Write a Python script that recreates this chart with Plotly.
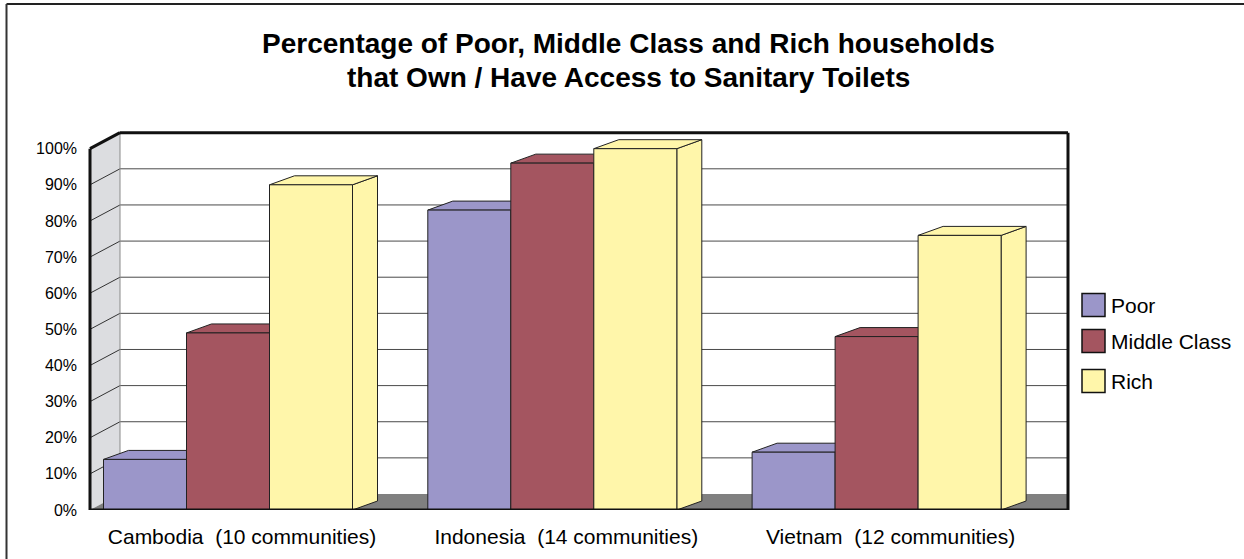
import plotly.graph_objects as go

# ---- data -------------------------------------------------------------
countries = [
    "Cambodia\u00a0 (10 communities)",
    "Indonesia\u00a0 (14 communities)",
    "Vietnam\u00a0 (12 communities)",
]
series_names = ["Poor", "Middle Class", "Rich"]
poor = [14, 83, 16]
middle = [49, 96, 48]
rich = [90, 100, 76]
y_ticks = [0, 10, 20, 30, 40, 50, 60, 70, 80, 90, 100]
y_tick_text = [f"{v}%" for v in y_ticks]
title_lines = [
    "Percentage of Poor, Middle Class and Rich households",
    "that Own / Have Access to Sanitary Toilets",
]

series_values = [poor, middle, rich]
series_colors = ["#9B96C9", "#A45560", "#FFF6AA"]

# ---- geometry ---------------------------------------------------------
W, H = 1244, 559
ML, MR, MT, MB = 86, 172, 127, 49
PX_PER_X = 324.3          # pixels per category step
FIRST_CENTER_PX = 228     # pixel column of the first category
Y_MAX = 106
plot_w = W - ML - MR
plot_h = H - MT - MB
PX_PER_Y = plot_h / Y_MAX

x_range = [(ML - FIRST_CENTER_PX) / PX_PER_X, (W - MR - FIRST_CENTER_PX) / PX_PER_X]
x_front_left = (90 - FIRST_CENTER_PX) / PX_PER_X
x_back_right = (1068 - FIRST_CENTER_PX) / PX_PER_X

# wall depth and bar depth, converted from pixels to axis units
dxw, dyw = 30 / PX_PER_X, 16 / PX_PER_Y
dxb, dyb = 25 / PX_PER_X, 9 / PX_PER_Y

bar_w = 83 / PX_PER_X
FONT = "Liberation Sans, Arial, Helvetica, sans-serif"


def paper_x(px):
    return (px - ML) / plot_w


def paper_y(py):
    return (H - MB - py) / plot_h


shapes = []


def poly(points, fill, line_color=None, width=0, layer="below"):
    path = "M " + " L ".join(f"{x},{y}" for x, y in points) + " Z"
    shapes.append(dict(type="path", path=path, xref="x", yref="y",
                       fillcolor=fill, layer=layer,
                       line=dict(color=line_color or fill, width=width)))


def seg(x0, y0, x1, y1, color, width, layer="below"):
    shapes.append(dict(type="line", x0=x0, y0=y0, x1=x1, y1=y1,
                       xref="x", yref="y", layer=layer,
                       line=dict(color=color, width=width)))


xb_left = x_front_left + dxw

# back wall
poly([(xb_left, dyw), (xb_left, 100 + dyw), (x_back_right, 100 + dyw),
      (x_back_right, dyw)], "white")
for v in y_ticks[1:-1]:
    seg(xb_left, v + dyw, x_back_right, v + dyw, "#4a4a4a", 1)

# left side wall
poly([(x_front_left, 0), (xb_left, dyw), (xb_left, 100 + dyw),
      (x_front_left, 100)], "#DCDDE0")
for v in y_ticks[1:-1]:
    seg(x_front_left, v, xb_left, v + dyw, "#333333", 1)
seg(xb_left, dyw, xb_left, 100 + dyw, "#8a8a8a", 1)

# floor
poly([(x_front_left, 0), (xb_left, dyw), (x_back_right, dyw),
      (x_back_right, 0)], "#808080")

# bar tops and sides
for i, vals in enumerate(series_values):
    offset = -1.5 * bar_w + i * bar_w
    for j, v in enumerate(vals):
        xl = j + offset
        xr = xl + bar_w
        poly([(xr, 0), (xr + dxb, dyb), (xr + dxb, v + dyb), (xr, v)],
             series_colors[i], "#222222", 1)
        poly([(xl, v), (xl + dxb, v + dyb), (xr + dxb, v + dyb), (xr, v)],
             series_colors[i], "#222222", 1)

# heavy frame edges
for (x0, y0, x1, y1) in [
    (x_front_left, 0, x_front_left, 100),
    (x_front_left, 100, xb_left, 100 + dyw),
    (xb_left, 100 + dyw, x_back_right, 100 + dyw),
    (x_back_right, 100 + dyw, x_back_right, 0),
    (x_front_left, 0, x_back_right, 0),
]:
    seg(x0, y0, x1, y1, "#111111", 3, layer="above")

# outer border (top and left)
shapes.append(dict(type="line", xref="paper", yref="paper",
                   x0=paper_x(6.5), y0=paper_y(4), x1=paper_x(W), y1=paper_y(4),
                   line=dict(color="#222222", width=2)))
shapes.append(dict(type="line", xref="paper", yref="paper",
                   x0=paper_x(6.5), y0=paper_y(4), x1=paper_x(6.5), y1=paper_y(H),
                   line=dict(color="#333333", width=2)))

annotations = []

# title, one annotation per line
for text, cy in zip(title_lines, [44, 78]):
    annotations.append(dict(xref="paper", yref="paper", x=paper_x(628.5),
                            y=paper_y(cy), text=f"<b>{text}</b>",
                            showarrow=False, xanchor="center", yanchor="middle",
                            font=dict(family=FONT, size=28, color="black")))

# legend
legend_rows = [305, 341, 381]
for name, color, cy in zip(series_names, series_colors, legend_rows):
    shapes.append(dict(type="rect", xref="paper", yref="paper",
                       x0=paper_x(1082), x1=paper_x(1105),
                       y0=paper_y(cy - 11.5), y1=paper_y(cy + 11.5),
                       fillcolor=color, line=dict(color="#111111", width=1.5)))
    annotations.append(dict(xref="paper", yref="paper", x=paper_x(1109),
                            y=paper_y(cy), text=name, showarrow=False,
                            xanchor="left", yanchor="middle",
                            font=dict(family=FONT, size=21, color="black")))

# ---- figure -----------------------------------------------------------
fig = go.Figure()
for i, vals in enumerate(series_values):
    fig.add_trace(go.Bar(
        x=[0, 1, 2], y=vals, name=series_names[i],
        width=bar_w, offset=-1.5 * bar_w + i * bar_w,
        marker=dict(color=series_colors[i], line=dict(color="#222222", width=1)),
        showlegend=False,
    ))

fig.update_layout(
    width=W, height=H,
    margin=dict(l=ML, r=MR, t=MT, b=MB, pad=0),
    paper_bgcolor="white", plot_bgcolor="white",
    barmode="overlay",
    xaxis=dict(range=x_range, showgrid=False, zeroline=False, showline=False,
               tickmode="array", tickvals=[0, 1, 2], ticktext=countries,
               ticks="", ticklabelshift=14, ticklabelstandoff=12,
               tickfont=dict(family=FONT, size=21, color="black"),
               fixedrange=True),
    yaxis=dict(range=[0, Y_MAX], showgrid=False, zeroline=False, showline=False,
               tickmode="array", tickvals=y_ticks, ticktext=y_tick_text,
               ticks="", ticklabelstandoff=8,
               tickfont=dict(family=FONT, size=16, color="black"),
               fixedrange=True),
    shapes=shapes,
    annotations=annotations,
    showlegend=False,
)

fig.write_html("out.html")
